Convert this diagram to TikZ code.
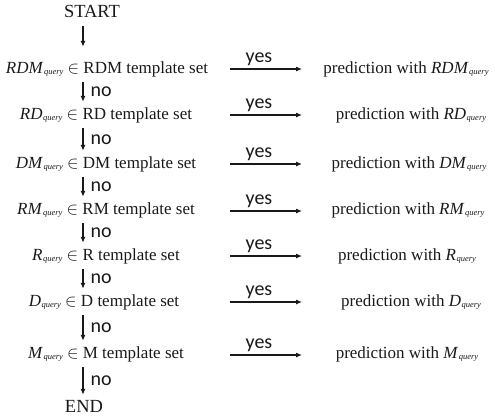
\documentclass[tikz,border=0pt]{standalone}
\usepackage{fontspec}
\setmainfont{Liberation Serif}
\newfontfamily\labelfont{Carlito}
\usetikzlibrary{arrows.meta, calc, positioning}
\definecolor{textgray}{RGB}{25,25,25}
\newcommand{\qry}[1]{\textit{#1}\kern0.5pt\raisebox{-1.8pt}{\fontsize{8.5}{8.5}\selectfont\itshape query}}

\begin{document}
\begin{tikzpicture}[x=1pt, y=-1pt, >={Latex[length=6pt,width=5pt]},
    cond/.style={anchor=base, font=\fontsize{17}{19}\selectfont, text=textgray,
        text height=12pt, text depth=4pt, inner ysep=5pt, inner xsep=0pt},
    term/.style={cond, font=\fontsize{18.5}{20}\selectfont},
    flow/.style={->, line width=1.1pt, textgray},
    lab/.style={font=\labelfont\fontsize{20}{22}\selectfont, text=textgray, inner sep=1pt},
    nolab/.style={lab, right=6pt},
    yeslab/.style={lab, above=2pt, xshift=-7pt}]
    \useasboundingbox (0,0) rectangle (495,416);

    % Tests
    \node[term] (start) at (92,17) {START};
    \node[cond] (rdm) at (107,73) {\qry{RDM} $\in$ RDM template set};
    \node[cond] (rd) at (106,119) {\qry{RD} $\in$ RD template set};
    \node[cond] (dm) at (106,168) {\qry{DM} $\in$ DM template set};
    \node[cond] (rm) at (106,214) {\qry{RM} $\in$ RM template set};
    \node[cond] (r) at (106,260) {\qry{R} $\in$ R template set};
    \node[cond] (d) at (104,306) {\qry{D} $\in$ D template set};
    \node[cond] (m) at (106,358) {\qry{M} $\in$ M template set};
    \node[term] (end) at (84,412) {END};

    % Predictions
    \node[cond] (prdm) at (406,73) {prediction with \qry{RDM}};
    \node[cond] (prd) at (411,119) {prediction with \qry{RD}};
    \node[cond] (pdm) at (409,168) {prediction with \qry{DM}};
    \node[cond] (prm) at (408,214) {prediction with \qry{RM}};
    \node[cond] (pr) at (407,260) {prediction with \qry{R}};
    \node[cond] (pd) at (411,306) {prediction with \qry{D}};
    \node[cond] (pm) at (407,358) {prediction with \qry{M}};

    % Columns of the arrows
    \coordinate (spine) at (83,0);
    \coordinate (yesL) at (230,0);
    \coordinate (yesR) at (302,0);

    % No branch
    \draw[flow, shorten >=9pt] (start.south -| spine) -- (rdm.north -| spine);
    \draw[flow] (rdm.south -| spine) -- node[nolab] {no} (rd.north -| spine);
    \draw[flow] (rd.south -| spine) -- node[nolab] {no} (dm.north -| spine);
    \draw[flow] (dm.south -| spine) -- node[nolab] {no} (rm.north -| spine);
    \draw[flow] (rm.south -| spine) -- node[nolab] {no} (r.north -| spine);
    \draw[flow] (r.south -| spine) -- node[nolab] {no} (d.north -| spine);
    \draw[flow] (d.south -| spine) -- node[nolab] {no} (m.north -| spine);
    \draw[flow] (m.south -| spine) -- node[nolab] {no} (end.north -| spine);

    % Yes branch
    \draw[flow] ($(rdm.base -| yesL)+(0,-4)$) -- node[yeslab] {yes} ($(prdm.base -| yesR)+(0,-4)$);
    \draw[flow] ($(rd.base -| yesL)+(0,-4)$) -- node[yeslab] {yes} ($(prd.base -| yesR)+(0,-4)$);
    \draw[flow] ($(dm.base -| yesL)+(0,-4)$) -- node[yeslab] {yes} ($(pdm.base -| yesR)+(0,-4)$);
    \draw[flow] ($(rm.base -| yesL)+(0,-3)$) -- node[yeslab] {yes} ($(prm.base -| yesR)+(0,-3)$);
    \draw[flow] ($(r.base -| yesL)+(0,-4)$) -- node[yeslab] {yes} ($(pr.base -| yesR)+(0,-4)$);
    \draw[flow] ($(d.base -| yesL)+(0,-4)$) -- node[yeslab] {yes} ($(pd.base -| yesR)+(0,-4)$);
    \draw[flow] ($(m.base -| yesL)+(0,-3)$) -- node[yeslab] {yes} ($(pm.base -| yesR)+(0,-3)$);
\end{tikzpicture}
\end{document}
